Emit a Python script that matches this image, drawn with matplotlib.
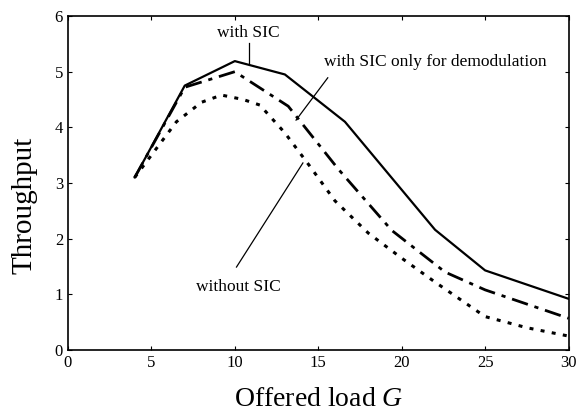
import matplotlib.pyplot as plt

# throughput vs offered load
g_sic = [4, 7, 10, 13, 16.6, 22, 25, 30]
thr_sic = [3.1, 4.75, 5.19, 4.95, 4.1, 2.16, 1.43, 0.92]

g_demod = [4, 7, 10, 13.2, 16.2, 19.4, 22.6, 25, 30]
thr_demod = [3.1, 4.72, 5.0, 4.38, 3.25, 2.15, 1.4, 1.08, 0.57]

g_nosic = [4, 6.5, 8, 9.2, 10.5, 11.5, 13, 14.5, 16, 18, 20, 22, 25, 27.5, 30]
thr_nosic = [3.1, 4.1, 4.45, 4.58, 4.5, 4.4, 3.9, 3.3, 2.68, 2.1, 1.65, 1.22, 0.6, 0.4, 0.25]

x_ticks = [0, 5, 10, 15, 20, 25, 30]
y_ticks = [0, 1, 2, 3, 4, 5, 6]

plt.rcParams['font.family'] = ['Liberation Serif', 'DejaVu Serif']
plt.rcParams['mathtext.fontset'] = 'custom'
plt.rcParams['mathtext.it'] = 'Liberation Serif:italic'
plt.rcParams['mathtext.rm'] = 'Liberation Serif'

fig = plt.figure(figsize=(5.78, 4.16), dpi=100)
ax = fig.add_axes([0.1176, 0.1587, 0.866, 0.8028])

ax.plot(g_sic, thr_sic, '-', color='black', lw=1.6)
ax.plot(g_demod, thr_demod, color='black', lw=2.0, dashes=[6, 2.5, 1.5, 2.5])
ax.plot(g_nosic, thr_nosic, color='black', lw=2.2, dashes=[1.3, 2.4])

ax.set_xlim(0, 30)
ax.set_ylim(0, 6)
ax.set_xticks(x_ticks)
ax.set_yticks(y_ticks)
ax.tick_params(direction='in', length=3, width=0.8, labelsize=12,
               top=True, right=True)
for s in ax.spines.values():
    s.set_linewidth(1.2)

ax.set_xlabel('Offered load $G$', fontsize=20)
ax.xaxis.set_label_coords(0.5, -0.11)
ax.set_ylabel('Throughput', fontsize=21)
ax.yaxis.set_label_coords(-0.06, 0.434)

ax.text(10.8, 5.69, 'with SIC', fontsize=12.5, ha='center', va='center')
ax.plot([10.87, 10.87], [5.51, 5.16], color='black', lw=0.9)

ax.text(22.0, 5.17, 'with SIC only for demodulation', fontsize=12.5,
        ha='center', va='center')
ax.plot([15.57, 13.67], [4.89, 4.13], color='black', lw=0.9)

ax.text(10.2, 1.13, 'without SIC', fontsize=12.5, ha='center', va='center')
ax.plot([10.1, 14.08], [1.49, 3.36], color='black', lw=0.9)

fig.savefig('out.png', dpi=100)
